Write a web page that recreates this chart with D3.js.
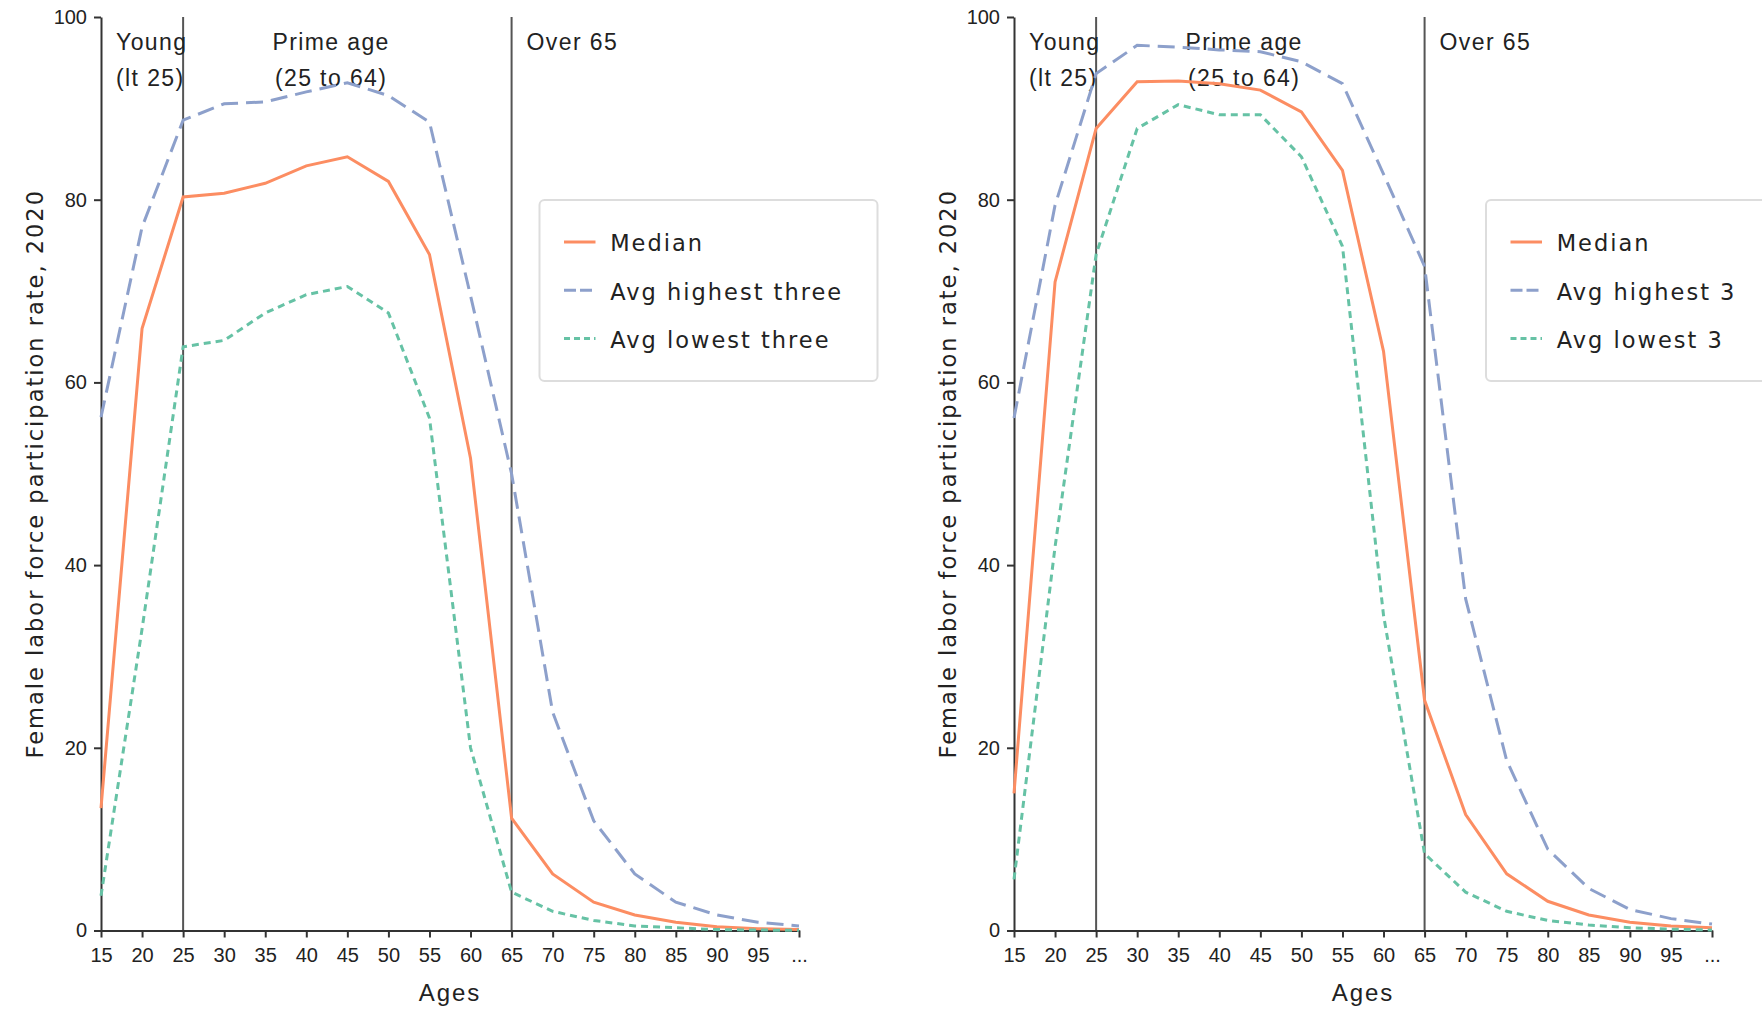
<!DOCTYPE html>
<html>
<head>
<meta charset="utf-8">
<script src="https://cdn.jsdelivr.net/npm/d3@7"></script>
<style>
  body { margin: 0; background: #fff; }
  svg { display: block; }
  .axis .tick text { font-family: "Liberation Sans", Arial, sans-serif; font-size: 20px; fill: #222; }
  .axis path, .axis line { stroke: #333; stroke-width: 2; }
  .ylabel, .legend text { font-family: "DejaVu Sans", Verdana, sans-serif; font-size: 22.5px; letter-spacing: 2px; fill: #222; }
  .xlabel { font-family: "Liberation Sans", Arial, sans-serif; font-size: 24px; letter-spacing: 2px; fill: #222; }
  .note { font-family: "Liberation Sans", Arial, sans-serif; font-size: 23px; letter-spacing: 1.4px; fill: #222; }
  .divider { stroke: #555; stroke-width: 2; }
  .legend-box { fill: #fff; stroke: #ddd; stroke-width: 2; }
</style>
</head>
<body>
<svg width="1762" height="1010"></svg>
<script>
// Data
const ages = ["15", "20", "25", "30", "35", "40", "45", "50", "55", "60",
  "65", "70", "75", "80", "85", "90", "95", "..."];
const yTicks = [0, 20, 40, 60, 80, 100];
const dividerAges = ["25", "65"];

const leftMedian = [13.4, 65.9, 80.3, 80.7, 81.8, 83.7, 84.7, 82.0, 74.0, 51.7,
  12.3, 6.2, 3.1, 1.7, 0.9, 0.4, 0.2, 0.1];
const leftHighest = [56.2, 77.0, 88.7, 90.5, 90.7, 91.8, 92.8, 91.4, 88.5, 69.5,
  50.0, 23.9, 12.0, 6.2, 3.1, 1.7, 0.9, 0.5];
const leftLowest = [3.8, 33.0, 63.9, 64.6, 67.6, 69.6, 70.5, 67.6, 56.1, 20.0,
  4.2, 2.1, 1.1, 0.5, 0.3, 0.1, 0.05, 0.02];
const leftLegend = ["Median", "Avg highest three", "Avg lowest three"];

const rightMedian = [15.0, 71.0, 87.8, 92.9, 93.0, 92.7, 92.0, 89.6, 83.2, 63.4,
  25.2, 12.7, 6.2, 3.2, 1.7, 0.9, 0.5, 0.3];
const rightHighest = [56.1, 79.4, 93.8, 96.9, 96.7, 96.4, 96.2, 95.1, 92.7, 82.8,
  72.7, 36.3, 18.6, 8.9, 4.6, 2.3, 1.3, 0.7];
const rightLowest = [5.6, 42.0, 74.0, 87.8, 90.4, 89.3, 89.3, 84.7, 74.9, 34.5,
  8.4, 4.2, 2.1, 1.1, 0.6, 0.3, 0.15, 0.05];
const rightLegend = ["Median", "Avg highest 3", "Avg lowest 3"];

const colors = ["#fc8d62", "#8da0cb", "#66c2a5"];
const dashes = [null, "17,8", "7,5"];

const marginTop = 17;
const width = 698;
const height = 913.5;

const svg = d3.select("svg");

const xScale = d3.scalePoint().domain(ages).range([0, width]);
const yScale = d3.scaleLinear().domain([0, 100]).range([height, 0]);

function drawPanel(left, series, labels, legendX) {
  const chart = svg.append("g").attr("transform", `translate(${left}, ${marginTop})`);

  // dividers for the age groups
  chart.selectAll(".divider")
    .data(dividerAges)
    .enter()
    .append("line")
    .attr("class", "divider")
    .attr("x1", d => xScale(d))
    .attr("x2", d => xScale(d))
    .attr("y1", yScale(100))
    .attr("y2", yScale(0));

  // X and Y axis
  chart.append("g")
    .attr("class", "axis")
    .attr("transform", `translate(0, ${height})`)
    .call(d3.axisBottom(xScale).tickSize(7).tickSizeOuter(0).tickPadding(10));

  chart.append("g")
    .attr("class", "axis")
    .call(d3.axisLeft(yScale).tickValues(yTicks).tickSize(7).tickSizeOuter(0).tickPadding(7));

  // group notes
  const notes = chart.append("g").attr("class", "note");
  notes.append("text").attr("x", xScale("15") + 15).attr("y", 33).text("Young");
  notes.append("text").attr("x", xScale("15") + 15).attr("y", 69).text("(lt 25)");
  notes.append("text").attr("x", xScale("25") + 148).attr("y", 33)
    .attr("text-anchor", "middle").text("Prime age");
  notes.append("text").attr("x", xScale("25") + 148).attr("y", 69)
    .attr("text-anchor", "middle").text("(25 to 64)");
  notes.append("text").attr("x", xScale("65") + 15).attr("y", 33).text("Over 65");

  // Lines
  const line = d3.line()
    .x((d, i) => xScale(ages[i]))
    .y(d => yScale(d));

  series.forEach((values, i) => {
    chart.append("path")
      .datum(values)
      .attr("fill", "none")
      .attr("stroke", colors[i])
      .attr("stroke-width", 3)
      .attr("stroke-dasharray", dashes[i])
      .attr("d", line);
  });

  // Labels
  chart.append("text")
    .attr("class", "ylabel")
    .attr("transform", "rotate(-90)")
    .attr("x", -height / 2)
    .attr("y", -58)
    .attr("text-anchor", "middle")
    .text("Female labor force participation rate, 2020");

  chart.append("text")
    .attr("class", "xlabel")
    .attr("x", width / 2)
    .attr("y", 984)
    .attr("text-anchor", "middle")
    .text("Ages");

  // Legend
  const legend = chart.append("g")
    .attr("class", "legend")
    .attr("transform", `translate(${legendX}, 183)`);

  legend.append("rect")
    .attr("class", "legend-box")
    .attr("width", 338)
    .attr("height", 181)
    .attr("rx", 5);

  const items = legend.selectAll(".item")
    .data(labels)
    .enter()
    .append("g")
    .attr("transform", (d, i) => `translate(0, ${42 + i * 48.3})`);

  items.append("line")
    .attr("x1", 24.5)
    .attr("x2", 56)
    .attr("stroke", (d, i) => colors[i])
    .attr("stroke-width", 3)
    .attr("stroke-dasharray", (d, i) => dashes[i] ? (i === 1 ? "12,4" : "6,4") : null);

  items.append("text")
    .attr("x", 70.7)
    .attr("dy", "0.42em")
    .text(d => d);
}

drawPanel(101, [leftMedian, leftHighest, leftLowest], leftLegend, 438.5);
drawPanel(1014, [rightMedian, rightHighest, rightLowest], rightLegend, 472);
</script>
</body>
</html>
